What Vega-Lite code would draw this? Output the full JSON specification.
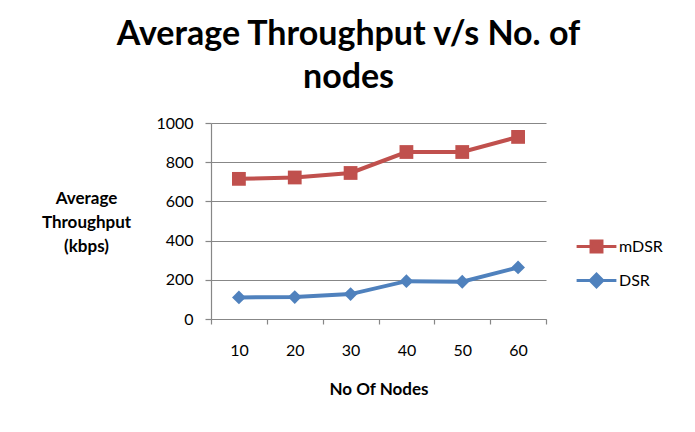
{
  "$schema": "https://vega.github.io/schema/vega-lite/v6.json",
  "width": 335,
  "height": 196,
  "autosize": {"type": "none"},
  "padding": {"left": 211, "top": 123, "right": 149, "bottom": 113},
  "background": "white",
  "title": {
    "text": ["Average Throughput v/s No. of", "nodes"],
    "font": "Lato",
    "fontSize": 34,
    "fontWeight": "bold",
    "color": "#000000",
    "anchor": "middle",
    "frame": "group",
    "dx": -30,
    "dy": 44,
    "lineHeight": 43,
    "baseline": "alphabetic",
    "offset": 37
  },
  "config": {
    "view": {"stroke": null},
    "font": "Lato"
  },
  "data": {
    "values": [
      {"nodes": 10, "series": "mDSR", "throughput": 715},
      {"nodes": 20, "series": "mDSR", "throughput": 722},
      {"nodes": 30, "series": "mDSR", "throughput": 745},
      {"nodes": 40, "series": "mDSR", "throughput": 852},
      {"nodes": 50, "series": "mDSR", "throughput": 852},
      {"nodes": 60, "series": "mDSR", "throughput": 929},
      {"nodes": 10, "series": "DSR", "throughput": 110},
      {"nodes": 20, "series": "DSR", "throughput": 112},
      {"nodes": 30, "series": "DSR", "throughput": 127},
      {"nodes": 40, "series": "DSR", "throughput": 193},
      {"nodes": 50, "series": "DSR", "throughput": 190},
      {"nodes": 60, "series": "DSR", "throughput": 263}
    ]
  },
  "resolve": {"axis": {"x": "independent"}},
  "encoding": {
    "y": {
      "field": "throughput",
      "type": "quantitative",
      "scale": {"domain": [0, 1000], "nice": false},
      "axis": {
        "values": [0, 200, 400, 600, 800, 1000],
        "format": "d",
        "labelOverlap": false,
        "grid": true,
        "gridColor": "#878787",
        "gridWidth": 1.2,
        "domainColor": "#878787",
        "domainWidth": 1.2,
        "tickColor": "#878787",
        "tickSize": 6,
        "tickWidth": 1.2,
        "labelFont": "Lato",
        "labelFontSize": 16,
        "labelColor": "#000000",
        "labelPadding": 12,
        "title": ["Average", "Throughput", "(kbps)"],
        "titleFont": "Lato",
        "titleFontSize": 17,
        "titleFontWeight": "bold",
        "titleColor": "#000000",
        "titleAngle": 0,
        "titleAlign": "center",
        "titleBaseline": "alphabetic",
        "titleX": -125,
        "titleY": 80,
        "titleLineHeight": 24
      }
    },
    "color": {
      "field": "series",
      "type": "nominal",
      "scale": {"domain": ["mDSR", "DSR"], "range": ["#C0504D", "#4F81BD"]},
      "legend": {
        "title": null,
        "orient": "none",
        "legendX": 367,
        "legendY": 105,
        "padding": 0,
        "symbolSize": 1100,
        "rowPadding": 4,
        "labelOffset": 4,
        "labelFont": "Lato",
        "labelFontSize": 16,
        "labelColor": "#000000",
        "encode": {
          "symbols": {
            "update": {
              "shape": {"signal": "datum.value === 'mDSR' ? 'M-1.2,0H1.2M-0.33,-0.33H0.33V0.33H-0.33Z' : 'M-1.2,0H1.2M-0.38,0L0,-0.38L0.38,0L0,0.38Z'"},
              "fill": {"signal": "datum.value === 'mDSR' ? '#C0504D' : '#4F81BD'"},
              "stroke": {"signal": "datum.value === 'mDSR' ? '#C0504D' : '#4F81BD'"},
              "strokeWidth": {"value": 3},
              "opacity": {"value": 1}
            }
          }
        }
      }
    }
  },
  "layer": [
    {
      "mark": {"type": "line", "strokeWidth": 4},
      "encoding": {
        "x": {
          "field": "nodes",
          "type": "quantitative",
          "scale": {"domain": [5, 65], "nice": false, "zero": false},
          "axis": {
            "orient": "bottom",
            "values": [5, 15, 25, 35, 45, 55, 65],
            "labels": false,
            "grid": false,
            "title": null,
            "domainColor": "#878787",
            "domainWidth": 1.2,
            "tickColor": "#878787",
            "tickSize": 5,
            "tickWidth": 1.2
          }
        }
      }
    },
    {
      "mark": {"type": "point", "filled": true, "opacity": 1, "size": 190},
      "encoding": {
        "x": {
          "field": "nodes",
          "type": "quantitative",
          "scale": {"domain": [5, 65], "nice": false, "zero": false},
          "axis": {
            "orient": "bottom",
            "values": [10, 20, 30, 40, 50, 60],
            "ticks": false,
            "tickSize": 0,
            "domain": false,
            "grid": false,
            "labelFont": "Lato",
            "labelFontSize": 16,
            "labelColor": "#000000",
            "labelBaseline": "alphabetic",
            "labelPadding": 36,
            "title": "No Of Nodes",
            "titleFont": "Lato",
            "titleFontSize": 17,
            "titleFontWeight": "bold",
            "titleColor": "#000000",
            "titleBaseline": "alphabetic",
            "titleY": 75
          }
        },
        "shape": {
          "condition": {"test": "datum.series === 'mDSR'", "value": "square"},
          "value": "diamond"
        }
      }
    }
  ]
}
